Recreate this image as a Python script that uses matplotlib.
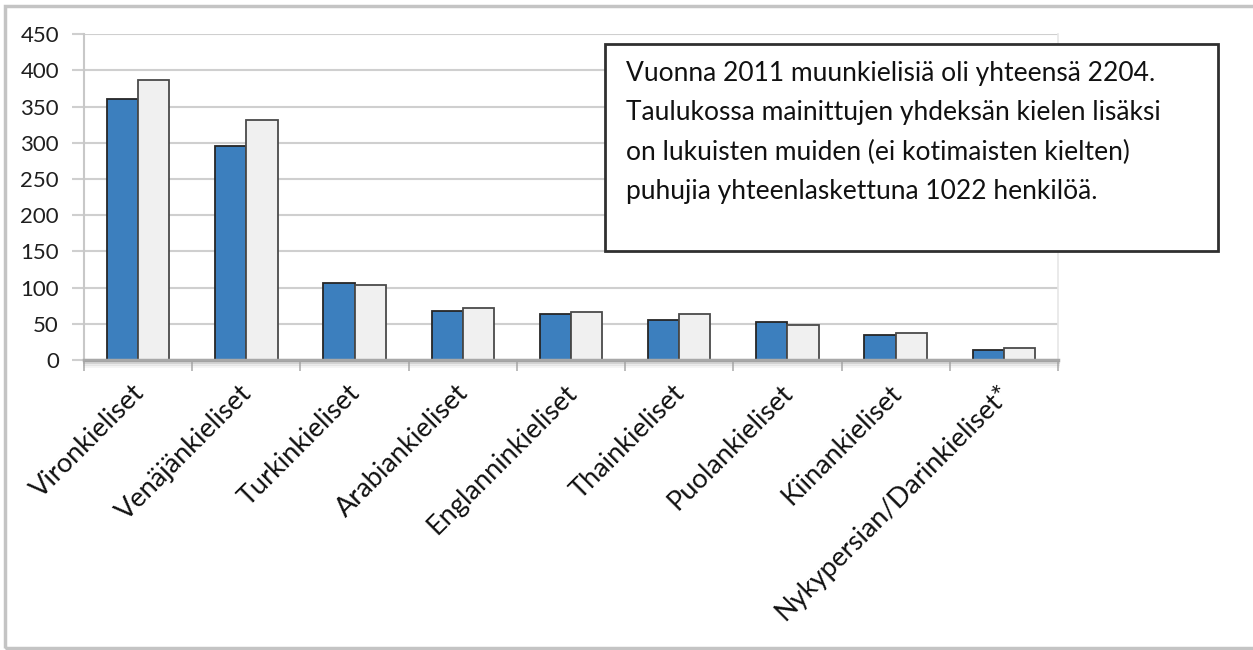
import matplotlib
matplotlib.use("Agg")
import matplotlib.pyplot as plt
from matplotlib.patches import Rectangle
from matplotlib.transforms import ScaledTranslation
import numpy as np

# --- DATA ---
categories = ["Vironkieliset", "Venäjänkieliset", "Turkinkieliset", "Arabiankieliset",
              "Englanninkieliset", "Thainkieliset", "Puolankieliset", "Kiinankieliset",
              "Nykypersian/Darinkieliset*"]
series_blue = [360, 296, 107, 68, 63, 55, 53, 35, 14]
series_white = [387, 331, 104, 72, 66, 64, 49, 37, 17]
y_ticks = [0, 50, 100, 150, 200, 250, 300, 350, 400, 450]
note_lines = [
    "Vuonna 2011 muunkielisiä oli yhteensä 2204.",
    "Taulukossa mainittujen yhdeksän kielen lisäksi",
    "on lukuisten muiden (ei kotimaisten kielten)",
    "puhujia yhteenlaskettuna 1022 henkilöä.",
]

W, H = 1253, 650
plt.rcParams['font.family'] = ['Lato', 'DejaVu Sans']

fig = plt.figure(figsize=(W / 100, H / 100), dpi=100)
ax = fig.add_axes([84 / W, 1 - 360 / H, (1058 - 84) / W, (360 - 34.3) / H])

x = np.arange(len(categories))
bw = 0.289
ax.bar(x - bw / 2, series_blue, bw, color='#3c7fbe', edgecolor='#262626', linewidth=1.3, zorder=3)
ax.bar(x + bw / 2, series_white, bw, color='#f0f0f0', edgecolor='#4a4a4a', linewidth=1.3, zorder=3)

ax.set_xlim(-0.5, len(categories) - 0.5)
ax.set_ylim(0, 450)
ax.set_yticks(y_ticks)
ax.set_yticklabels([str(v) for v in y_ticks], fontsize=16, color='#1f1f1f')
ax.yaxis.grid(True, color='#cfcfcf', linewidth=1.5, zorder=0)
ax.tick_params(axis='y', length=9, width=1.5, color='#cfcfcf', pad=9)

# category labels, rotated like the Excel original
ax.set_xticks(x)
ax.set_xticklabels(categories, fontsize=19.5, color='#111111', rotation=45,
                   ha='right', va='center', rotation_mode='anchor')
ax.tick_params(axis='x', length=0, pad=21)
shift = ScaledTranslation(2 / 100, 0, fig.dpi_scale_trans)
for lab in ax.get_xticklabels():
    lab.set_transform(lab.get_transform() + shift)

# boundary ticks between categories
ax.set_xticks(np.arange(len(categories) + 1) - 0.5, minor=True)
ax.tick_params(axis='x', which='minor', length=8, width=1.2, color='#b0b0b0')

ax.spines['top'].set_visible(False)
ax.spines['right'].set_color('#e6e6e6')
ax.spines['right'].set_linewidth(1.2)
ax.spines['left'].set_color('#c8c8c8')
ax.spines['left'].set_linewidth(1.5)
ax.spines['bottom'].set_color('#a8a8a8')
ax.spines['bottom'].set_linewidth(2.5)
ax.spines['bottom'].set_zorder(4)

# soft shadow under the x axis
for k, a in enumerate([0.35, 0.2, 0.1]):
    fig.add_artist(plt.Line2D([84 / W, 1058 / W], [1 - (362 + 2 * k) / H] * 2,
                              color='#9a9a9a', alpha=a, linewidth=2, transform=fig.transFigure))

# outer frame of the picture
fig.add_artist(Rectangle((5 / W, 2 / H), 1.2, 1 - 8 / H, transform=fig.transFigure,
                         fill=False, edgecolor='#c4c4c4', linewidth=2.5))

# note box
fig.add_artist(Rectangle((605 / W, 1 - 251 / H), (1218 - 605) / W, (251 - 44) / H,
                         transform=fig.transFigure, facecolor='white',
                         edgecolor='#303030', linewidth=2, zorder=5))
for i, line in enumerate(note_lines):
    fig.text(626 / W, 1 - (73 + 39.5 * i) / H, line, fontsize=19, color='#111111',
             ha='left', va='center', zorder=6)

fig.savefig("out.png", dpi=100)
